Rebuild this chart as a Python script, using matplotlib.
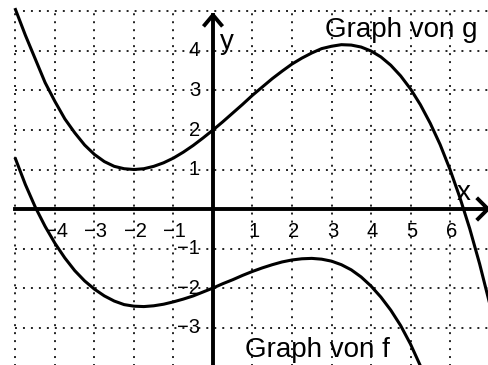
import numpy as np
import matplotlib
matplotlib.use("Agg")
import matplotlib.pyplot as plt

# curve points
x_g = [-5, -4.75, -4.5, -4.25, -4, -3.75, -3.5, -3.25, -3, -2.75, -2.5, -2.25, -2,
       -1.75, -1.5, -1.25, -1, -0.75, -0.5, -0.25, 0, 0.25, 0.5, 0.75, 1, 1.25,
       1.5, 1.75, 2, 2.25, 2.5, 2.75, 3, 3.25, 3.5, 3.75, 4, 4.25, 4.5, 4.75, 5,
       5.25, 5.5, 5.75, 6, 6.25, 6.5, 6.75, 7]
y_g = [5.05, 4.4, 3.8, 3.2, 2.72, 2.28, 1.93, 1.62, 1.38, 1.2, 1.08, 1.02, 1.0,
       1.02, 1.08, 1.17, 1.29, 1.44, 1.61, 1.8, 2.0, 2.21, 2.43, 2.65, 2.88, 3.09,
       3.3, 3.49, 3.67, 3.82, 3.95, 4.06, 4.12, 4.16, 4.15, 4.1, 4.0, 3.85, 3.64,
       3.37, 3.04, 2.64, 2.17, 1.63, 1.0, 0.29, -0.5, -1.39, -2.38]

x_f = [-5, -4.75, -4.5, -4.25, -4, -3.75, -3.5, -3.25, -3, -2.75, -2.5, -2.25, -2,
       -1.75, -1.5, -1.25, -1, -0.75, -0.5, -0.25, 0, 0.25, 0.5, 0.75, 1, 1.25,
       1.5, 1.75, 2, 2.25, 2.5, 2.75, 3, 3.25, 3.5, 3.75, 4, 4.25, 4.5, 4.75, 5,
       5.25, 5.4]
y_f = [1.27, 0.62, 0.05, -0.44, -0.87, -1.24, -1.56, -1.82, -2.03, -2.2, -2.33,
       -2.42, -2.46, -2.47, -2.45, -2.41, -2.35, -2.28, -2.2, -2.1, -2.0, -1.89,
       -1.79, -1.68, -1.58, -1.49, -1.41, -1.34, -1.29, -1.26, -1.25, -1.27, -1.32,
       -1.41, -1.54, -1.72, -1.95, -2.23, -2.56, -2.95, -3.42, -3.97, -4.3]

x_ticks = [-4, -3, -2, -1, 1, 2, 3, 4, 5, 6]
y_ticks = [-3, -2, -1, 1, 2, 3, 4]
grid_x = np.arange(-5, 8)
grid_y = np.arange(-4, 6)

plt.rcParams['font.family'] = ['Liberation Sans', 'DejaVu Sans']

fig = plt.figure(figsize=(4.89, 3.65), dpi=100)
ax = fig.add_axes([0, 0, 1, 1])
ax.set_xlim(-5.392, 6.987)
ax.set_ylim(-3.949, 5.291)
ax.axis('off')

# dotted grid
for gx in grid_x:
    ax.plot([gx, gx], [-4, 5], color='#222222', lw=1.4, ls=(0, (1, 3.1)), zorder=1)
for gy in grid_y:
    ax.plot([-5, 7], [gy, gy], color='#222222', lw=1.4, ls=(0, (1, 3.1)), zorder=1)

# axes with open arrow heads
ax.plot([-5, 6.96], [0, 0], color='black', lw=2.8, zorder=3)
ax.plot([0, 0], [-4, 4.91], color='black', lw=2.8, zorder=3)
ax.plot([6.71, 6.96, 6.71], [0.25, 0, -0.25], color='black', lw=2.8, zorder=3)
ax.plot([-0.21, 0, 0.21], [4.66, 4.91, 4.66], color='black', lw=2.8, zorder=3)

ax.plot(x_g, y_g, color='black', lw=2.2, zorder=4)
ax.plot(x_f, y_f, color='black', lw=2.2, zorder=4)

for t in x_ticks:
    lab = str(t).replace('-', '\u2212')
    ax.text(t + 0.03, -0.56, lab, ha='center', va='center', fontsize=14.5)
for t in y_ticks:
    lab = str(t).replace('-', '\u2212')
    ax.text(-0.33, t, lab, ha='right', va='center', fontsize=14.5)

ax.text(0.18, 4.05, 'y', fontsize=20, ha='left', va='baseline')
ax.text(6.18, 0.23, 'x', fontsize=20, ha='left', va='baseline')
ax.text(2.84, 4.35, 'Graph von g', fontsize=20, ha='left', va='baseline')
ax.text(0.81, -3.75, 'Graph von f', fontsize=20, ha='left', va='baseline')

fig.savefig('out.png', dpi=100)
